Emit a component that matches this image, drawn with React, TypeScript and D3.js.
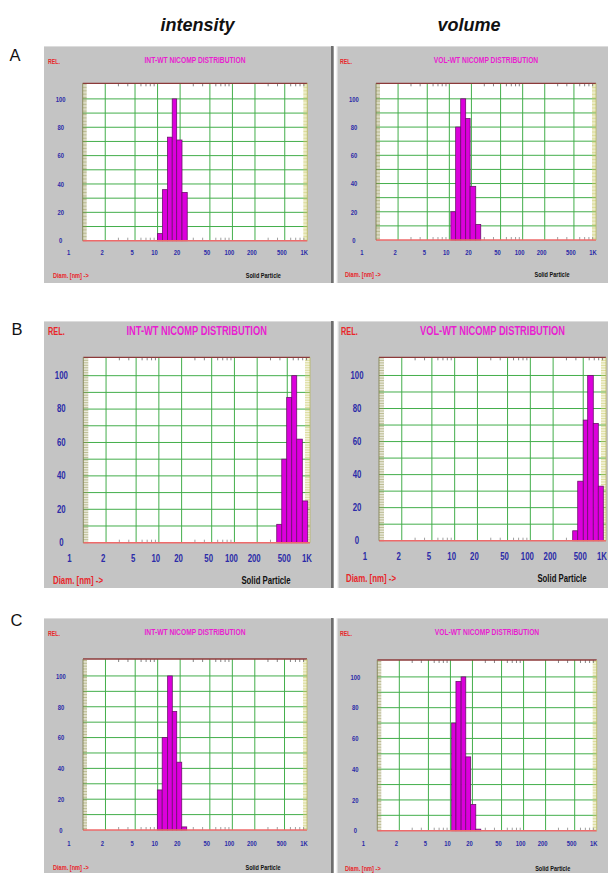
import React from "react";
import * as d3 from "d3";

// axis ticks shared by every NICOMP screen
const xTickValues = [1, 2, 5, 10, 20, 50, 100, 200, 500, 1000];
const xTickLabels = ["1", "2", "5", "10", "20", "50", "100", "200", "500", "1K"];
const xGridValues = [2, 5, 10, 20, 50, 100, 200, 500];
const yTickValues = [0, 20, 40, 60, 80, 100];
const yGridValues = [10, 20, 30, 40, 50, 60, 70, 80, 90, 100];

// histogram bins: edges in nm, relative heights (%)
const aIntEdges = [10.0, 11.6, 13.6, 15.7, 18.0, 21.2, 24.9];
const aIntValues = [5, 36, 73, 100, 71, 34];
const aVolEdges = [10.5, 12.2, 14.3, 16.7, 19.2, 22.9, 26.8];
const aVolValues = [20, 80, 100, 86, 38, 11];
const bIntEdges = [363, 423, 492, 573, 667, 791, 933];
const bIntValues = [11, 50, 87, 100, 62, 25];
const bVolEdges = [363, 423, 501, 573, 679, 791, 921];
const bVolValues = [6, 36, 73, 100, 71, 33];
const cIntEdges = [9.9, 11.5, 13.6, 15.7, 18.0, 21.0, 24.5];
const cIntValues = [26, 60, 100, 77, 44, 2];
const cVolEdges = [10.4, 11.9, 14.0, 16.2, 18.9, 22.2, 26.0];
const cVolValues = [70, 97, 100, 48, 17, 1];

const INT_TITLE = "INT-WT NICOMP DISTRIBUTION";
const VOL_TITLE = "VOL-WT NICOMP DISTRIBUTION";

const SANS = "'Liberation Sans', Arial, sans-serif";

const small = { title: 9, tick: 7.5, foot: 7.5, band: 4, titleDy: 14, labelDy: 12, footDy: 34 };
const large = { title: 12.5, tick: 10, foot: 10.5, band: 5, titleDy: 9.5, labelDy: 15.5, footDy: 37.5 };
const smallC = { ...small, labelDy: 13, footDy: 37 };

const panels = [
  { title: INT_TITLE, edges: aIntEdges, values: aIntValues, side: "left", box: [44, 46, 290, 237], plot: [82.7, 83.3, 224.6, 157.4], st: small },
  { title: VOL_TITLE, edges: aVolEdges, values: aVolValues, side: "right", box: [336, 46, 272, 237], plot: [376, 83.3, 220, 156.7], st: small },
  { title: INT_TITLE, edges: bIntEdges, values: bIntValues, side: "left", box: [44, 321, 290, 267], plot: [83.3, 357.3, 226.7, 185.4], st: large },
  { title: VOL_TITLE, edges: bVolEdges, values: bVolValues, side: "right", box: [337, 321, 271, 267], plot: [379, 357.3, 227, 183.4], st: large },
  { title: INT_TITLE, edges: cIntEdges, values: cIntValues, side: "left", box: [44, 618, 290, 260], plot: [83, 659, 224, 171], st: smallC },
  { title: VOL_TITLE, edges: cVolEdges, values: cVolValues, side: "right", box: [336, 618, 272, 260], plot: [377.3, 660, 219.4, 170.7], st: smallC },
];

// narrow bold text, like the instrument's screen font
function NText({ x, y, size, fill, anchor = "start", sx = 0.75, children }) {
  return (
    <text
      transform={`translate(${x},${y}) scale(${sx},1)`}
      textAnchor={anchor}
      dominantBaseline="central"
      fontFamily={SANS}
      fontWeight="bold"
      fontSize={size}
      fill={fill}
    >
      {children}
    </text>
  );
}

function Panel({ p }) {
  const [bx, by, bw, bh] = p.box;
  const [px, py, pw, ph] = p.plot;
  const st = p.st;
  const x = d3.scaleLog().domain([1, 1000]).range([px, px + pw]);
  const y = d3.scaleLinear().domain([0, 111]).range([py + ph, py]);
  const minorX = x.ticks().filter((v) => !xGridValues.includes(v) && ![1, 10, 100, 1000].includes(v));
  const minorY = d3.range(0, 111, 1);
  const bottom = py + ph;

  return (
    <g>
      <rect x={bx} y={by} width={bw} height={bh} fill="#c4c4c4" />
      <line x1={bx} x2={bx + bw} y1={by + 0.5} y2={by + 0.5} stroke="#dcdcdc" />
      {p.side === "left" ? (
        <rect x={bx + bw - 3} y={by} width={2.5} height={bh} fill="#6e6e6e" />
      ) : (
        <rect x={bx} y={by} width={1.5} height={bh} fill="#f2f2f2" />
      )}

      {/* plot area */}
      <rect x={px} y={py} width={pw} height={ph} fill="#ffffff" />
      {xGridValues.map((v) => (
        <line key={"gx" + v} x1={x(v)} x2={x(v)} y1={py} y2={bottom} stroke="#43ae4b" strokeWidth={1} />
      ))}
      {yGridValues.map((v) => (
        <line key={"gy" + v} x1={px} x2={px + pw} y1={y(v)} y2={y(v)} stroke="#43ae4b" strokeWidth={1} />
      ))}
      {minorY.map((v) => (
        <g key={"my" + v}>
          <line x1={px} x2={px + st.band} y1={y(v)} y2={y(v)} stroke="#8f8f4a" strokeWidth={0.6} />
          <line x1={px + pw - st.band} x2={px + pw} y1={y(v)} y2={y(v)} stroke="#c4c458" strokeWidth={0.6} />
        </g>
      ))}
      {minorX.map((v) => (
        <g key={"mx" + v}>
          <line x1={x(v)} x2={x(v)} y1={py} y2={py + 3} stroke="#666" strokeWidth={0.8} />
          <line x1={x(v)} x2={x(v)} y1={bottom - 3} y2={bottom} stroke="#888" strokeWidth={0.8} />
        </g>
      ))}

      {/* bars */}
      {p.values.map((v, i) => (
        <rect
          key={"b" + i}
          x={x(p.edges[i])}
          y={y(v)}
          width={x(p.edges[i + 1]) - x(p.edges[i])}
          height={bottom - y(v)}
          fill="#dc00dc"
          stroke="#6e106e"
          strokeWidth={0.8}
        />
      ))}

      {/* frame */}
      <line x1={px} x2={px + pw} y1={py} y2={py} stroke="#8c3a3a" strokeWidth={1.3} />
      <line x1={px} x2={px + pw} y1={bottom} y2={bottom} stroke="#ee6a6a" strokeWidth={1.5} />
      <line x1={px} x2={px} y1={py} y2={bottom} stroke="#7a7a48" strokeWidth={0.8} />
      <line x1={px + pw} x2={px + pw} y1={py} y2={bottom} stroke="#b8b860" strokeWidth={0.8} />

      {/* texts */}
      <NText x={px + pw / 2} y={by + st.titleDy} anchor="middle" size={st.title} sx={0.745} fill="#e81ed0">{p.title}</NText>
      <NText x={bx + 4} y={by + st.titleDy + 1} size={st.foot} sx={0.7} fill="#e8262a">REL.</NText>
      {yTickValues.map((v) => (
        <NText key={"yt" + v} x={px - 22} y={y(v)} anchor="middle" size={st.tick} sx={0.78} fill="#2b2ba8">{v}</NText>
      ))}
      {xTickValues.map((v, i) => {
        let lx = i === 0 ? x(v) - 14 : x(v) - 3;
        let anchor = "middle";
        if (lx + 5 > 607) {
          lx = 607;
          anchor = "end";
        }
        return (
          <NText key={"xt" + v} x={lx} y={bottom + st.labelDy} anchor={anchor} size={st.tick} sx={0.78} fill="#2b2ba8">
            {xTickLabels[i]}
          </NText>
        );
      })}
      <NText x={bx + 9} y={bottom + st.footDy} size={st.foot} fill="#e8262a">{"Diam. [nm] ->"}</NText>
      <NText x={px + pw - 44} y={bottom + st.footDy} anchor="middle" size={st.foot} sx={0.74} fill="#111">Solid Particle</NText>
    </g>
  );
}

export default function App() {
  return (
    <svg width={608} height={873} style={{ position: "absolute", left: 0, top: 0, background: "#fff" }}>
      <rect width={608} height={873} fill="#ffffff" />
      {panels.map((p, i) => (
        <Panel key={i} p={p} />
      ))}
      <text x={197.5} y={31} textAnchor="middle" fontFamily={SANS}
        fontWeight="bold" fontStyle="italic" fontSize={18} fill="#111">intensity</text>
      <text x={469} y={31} textAnchor="middle" fontFamily={SANS}
        fontWeight="bold" fontStyle="italic" fontSize={18} fill="#111">volume</text>
      {[["A", 9.5, 61], ["B", 11.5, 335], ["C", 10.5, 626]].map(([t, tx, ty]) => (
        <text key={t} x={tx} y={ty} fontFamily={SANS} fontSize={16.5} fill="#111">{t}</text>
      ))}
    </svg>
  );
}
